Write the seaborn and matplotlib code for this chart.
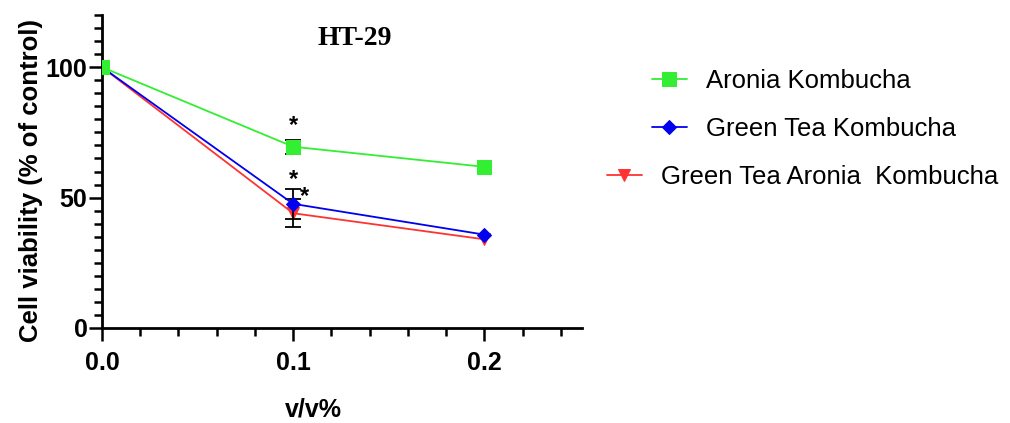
import matplotlib
matplotlib.use("Agg")
import matplotlib.pyplot as plt
from matplotlib.ticker import MultipleLocator, FixedLocator
import seaborn as sns
import pandas as pd
import numpy as np

sns.set_style("ticks")
plt.rcParams['font.family'] = ['Liberation Sans', 'DejaVu Sans']
plt.rcParams['text.color'] = 'black'
plt.rcParams['axes.labelcolor'] = 'black'
plt.rcParams['xtick.color'] = 'black'
plt.rcParams['ytick.color'] = 'black'

# ---- data ----
concentration = [0.0, 0.1, 0.2]
aronia = [100, 69.5, 61.8]
aronia_err = [0, 2.7, 0]
green_tea = [100, 47.6, 35.8]
green_tea_err = [0, 5.8, 0]
gt_aronia = [100, 44.0, 34.0]
gt_aronia_err = [0, 5.3, 0]
series_names = ["Aronia Kombucha", "Green Tea Kombucha", "Green Tea Aronia  Kombucha"]
title = "HT-29"
xlabel = "v/v%"
ylabel = "Cell viability (% of control)"
star_points = [(0.1, 77.5), (0.1, 56.8), (0.106, 50.3)]

colors = {"Aronia Kombucha": "#33EE33",
          "Green Tea Kombucha": "#0000EE",
          "Green Tea Aronia  Kombucha": "#FF3333"}
markers = {"Aronia Kombucha": "s",
           "Green Tea Kombucha": "D",
           "Green Tea Aronia  Kombucha": "v"}
msizes = {"Aronia Kombucha": 9.5,
          "Green Tea Kombucha": 7.5,
          "Green Tea Aronia  Kombucha": 9}

fig = plt.figure(figsize=(10.10, 4.23), dpi=100)
ax = fig.add_axes([0.101, 0.2246, 0.475, 0.7399])

vals = {"Aronia Kombucha": (aronia, aronia_err),
        "Green Tea Kombucha": (green_tea, green_tea_err),
        "Green Tea Aronia  Kombucha": (gt_aronia, gt_aronia_err)}

handles = {}
draw_order = ["Green Tea Aronia  Kombucha", "Green Tea Kombucha", "Aronia Kombucha"]
for z, name in enumerate(draw_order):
    y, e = vals[name]
    df = pd.DataFrame({"x": concentration, "y": y})
    ax.errorbar(concentration, y, yerr=[v if v > 0 else np.nan for v in e],
                fmt="none", ecolor="black", elinewidth=1.3, capsize=6, capthick=1.3,
                zorder=2 + z)
    sns.lineplot(data=df, x="x", y="y", ax=ax, color=colors[name],
                 marker=markers[name], markersize=msizes[name],
                 markeredgecolor=colors[name], linewidth=1.3, zorder=3 + z,
                 legend=False)
    handles[name] = ax.lines[-1]

for (sx, sy) in star_points:
    ax.text(sx, sy, "*", ha="center", va="center", fontsize=17, fontweight="bold",
            color="black")

ax.set_xlim(0, 0.251)
ax.set_ylim(0, 120)
ax.xaxis.set_major_locator(FixedLocator([0.0, 0.1, 0.2]))
ax.xaxis.set_minor_locator(MultipleLocator(0.02))
ax.yaxis.set_major_locator(FixedLocator([0, 50, 100]))
ax.yaxis.set_minor_locator(MultipleLocator(5))
ax.set_xticklabels(["0.0", "0.1", "0.2"])
ax.set_yticklabels(["0", "50", "100"])
for lab in ax.get_xticklabels() + ax.get_yticklabels():
    lab.set_fontweight("bold")
    lab.set_fontsize(18)
ax.tick_params(which="major", length=9.5, width=1.8, direction="out", color="black")
ax.tick_params(which="minor", length=5.5, width=1.8, direction="out", color="black")
ax.tick_params(axis="x", which="major", pad=7)
ax.tick_params(axis="y", which="major", pad=1)
sns.despine(ax=ax)
for sp in ["left", "bottom"]:
    ax.spines[sp].set_linewidth(2.0)
    ax.spines[sp].set_color("black")

ax.set_xlabel(xlabel, fontsize=18, fontweight="bold")
ax.xaxis.set_label_coords(0.44, -0.222)
ax.set_ylabel(ylabel, fontsize=18.5, fontweight="bold")
ax.yaxis.set_label_coords(-0.123, 0.47)

ax.text(0.527, 0.925, title, transform=ax.transAxes, ha="center", va="center",
        fontsize=20, fontweight="bold", family=["Liberation Serif", "DejaVu Serif"])

leg_kw = dict(frameon=False, fontsize=18.5, handlelength=1.35, handletextpad=0.75,
              labelspacing=0.95, borderpad=0, borderaxespad=0)
leg1 = fig.legend([handles[series_names[0]], handles[series_names[1]]],
                  series_names[:2], loc="upper left",
                  bbox_to_anchor=(652 / 1010, 1 - 69 / 423), **leg_kw)
leg2 = fig.legend([handles[series_names[2]]], series_names[2:], loc="upper left",
                  bbox_to_anchor=(607 / 1010, 1 - 165 / 423), **leg_kw)
for leg in (leg1, leg2):
    for t in leg.get_texts():
        t.set_color("black")

fig.savefig("out.png", dpi=100, facecolor="white")
